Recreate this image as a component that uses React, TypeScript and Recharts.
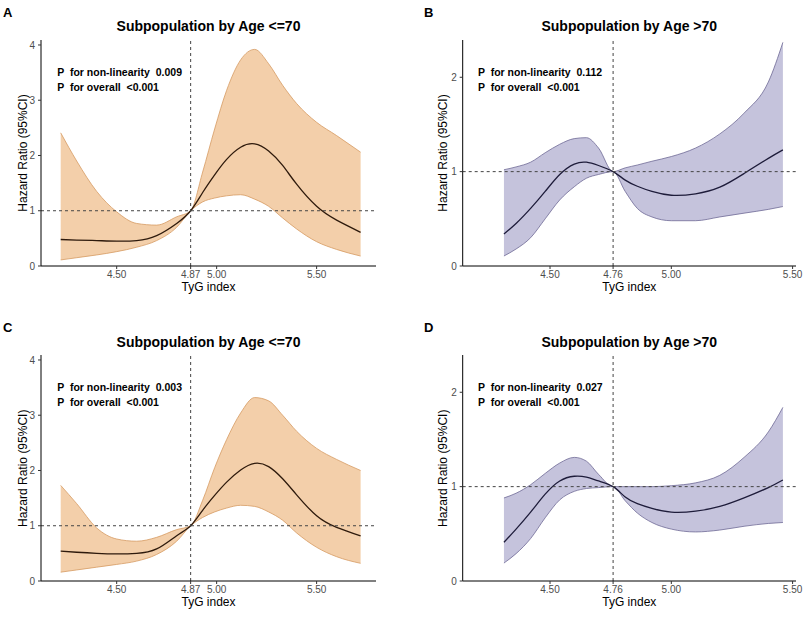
import React from 'react';
import { ComposedChart, Area, Line, XAxis, YAxis, ReferenceLine } from 'recharts';

// ---- Data ----
// Panels A & C (Age <= 70), reference TyG = 4.87
const xAC = [4.22, 4.30, 4.40, 4.50, 4.60, 4.70, 4.80, 4.87, 4.93, 4.99, 5.05, 5.12, 5.19, 5.26, 5.33, 5.40, 5.50, 5.60, 5.72];
const lowA = [0.11, 0.15, 0.20, 0.26, 0.34, 0.46, 0.70, 1.0, 1.16, 1.23, 1.27, 1.29, 1.21, 1.08, 0.87, 0.67, 0.44, 0.30, 0.18];
const hrA = [0.48, 0.47, 0.46, 0.45, 0.46, 0.55, 0.77, 1.0, 1.33, 1.65, 1.93, 2.15, 2.21, 2.08, 1.82, 1.48, 1.08, 0.83, 0.61];
const highA = [2.41, 1.90, 1.35, 0.98, 0.77, 0.74, 0.89, 1.0, 1.70, 2.48, 3.18, 3.73, 3.92, 3.66, 3.27, 2.94, 2.60, 2.36, 2.06];

const lowC = [0.16, 0.20, 0.25, 0.30, 0.36, 0.48, 0.72, 1.0, 1.15, 1.25, 1.32, 1.37, 1.35, 1.25, 1.10, 0.87, 0.61, 0.44, 0.32];
const hrC = [0.54, 0.52, 0.50, 0.49, 0.50, 0.58, 0.82, 1.0, 1.28, 1.55, 1.79, 2.01, 2.13, 2.07, 1.85, 1.56, 1.18, 0.97, 0.815];
const highC = [1.73, 1.40, 0.96, 0.76, 0.72, 0.79, 0.93, 1.0, 1.46, 2.05, 2.56, 3.04, 3.32, 3.26, 3.0, 2.71, 2.40, 2.20, 2.0];

// Panels B & D (Age > 70), reference TyG = 4.76
const xBD = [4.31, 4.36, 4.42, 4.48, 4.54, 4.60, 4.65, 4.70, 4.76, 4.81, 4.86, 4.92, 5.00, 5.10, 5.20, 5.30, 5.40, 5.46];
const lowB = [0.106, 0.18, 0.30, 0.50, 0.70, 0.84, 0.93, 0.97, 1.0, 0.79, 0.61, 0.52, 0.48, 0.48, 0.52, 0.56, 0.60, 0.63];
const hrB = [0.34, 0.45, 0.61, 0.79, 0.97, 1.08, 1.10, 1.065, 1.0, 0.91, 0.845, 0.79, 0.75, 0.765, 0.835, 0.98, 1.14, 1.23];
const highB = [1.02, 1.05, 1.10, 1.20, 1.29, 1.35, 1.36, 1.25, 1.0, 1.04, 1.07, 1.11, 1.16, 1.25, 1.40, 1.62, 1.95, 2.37];

const lowD = [0.19, 0.29, 0.45, 0.67, 0.86, 0.95, 0.98, 0.99, 1.0, 0.85, 0.72, 0.62, 0.55, 0.52, 0.54, 0.58, 0.61, 0.62];
const hrD = [0.41, 0.55, 0.73, 0.92, 1.06, 1.11, 1.10, 1.06, 1.0, 0.89, 0.82, 0.77, 0.73, 0.74, 0.79, 0.88, 0.99, 1.07];
const highD = [0.88, 0.93, 1.02, 1.14, 1.25, 1.31, 1.27, 1.13, 1.0, 1.0, 1.0, 1.0, 1.01, 1.04, 1.12, 1.31, 1.58, 1.84];

const xTicksAC = [4.5, 4.87, 5.0, 5.5];
const xTicksBD = [4.5, 4.76, 5.0, 5.5];
const yTicksAC = [0, 1, 2, 3, 4];
const yTicksBD = [0, 1, 2];

const titlesTop = ['Subpopulation by Age <=70', 'Subpopulation by Age >70'];
const letters = ['A', 'B', 'C', 'D'];
const pNonLin = ['0.009', '0.112', '0.003', '0.027'];
const pOverall = ['<0.001', '<0.001', '<0.001', '<0.001'];

const build = (x: number[], low: number[], hr: number[], high: number[]) =>
  x.map((v, i) => ({ x: v, band: [low[i], high[i]], hr: hr[i] }));

const FONT = '"Liberation Sans", Arial, sans-serif';
const ORANGE_FILL = '#f3cfaa';
const ORANGE_EDGE = '#d69a62';
const PURPLE_FILL = '#c5c3dc';
const PURPLE_EDGE = '#6e6a96';

type PanelProps = {
  left: number; top: number; width: number; height: number;
  mLeft: number; mRight: number;
  data: any[]; xDomain: [number, number]; xTicks: number[];
  yDomain: [number, number]; yTicks: number[]; refX: number;
  fill: string; edge: string; lineColor: string;
};

function Panel(p: PanelProps) {
  return (
    <div style={{ position: 'absolute', left: p.left, top: p.top }}>
      <ComposedChart
        width={p.width}
        height={p.height}
        data={p.data}
        margin={{ top: 40, right: p.mRight, bottom: 10, left: p.mLeft }}
      >
        <XAxis
          dataKey="x"
          type="number"
          domain={p.xDomain}
          ticks={p.xTicks}
          allowDataOverflow
          tickFormatter={(v: number) => v.toFixed(2)}
          height={24}
          tickSize={3}
          tickMargin={2}
          axisLine={{ stroke: '#000', strokeWidth: 1 }}
          tickLine={{ stroke: '#333' }}
          tick={{ fill: '#4d4d4d', fontSize: 10, fontFamily: FONT }}
        />
        <YAxis
          type="number"
          domain={p.yDomain}
          ticks={p.yTicks}
          allowDataOverflow
          width={30}
          tickSize={3}
          tickMargin={3}
          axisLine={{ stroke: '#000', strokeWidth: 1 }}
          tickLine={{ stroke: '#333' }}
          tick={{ fill: '#4d4d4d', fontSize: 10, fontFamily: FONT }}
        />
        <Area
          dataKey="band"
          type="monotone"
          fill={p.fill}
          fillOpacity={1}
          stroke={p.edge}
          strokeWidth={0.8}
          isAnimationActive={false}
          dot={false}
          activeDot={false}
        />
        <Line
          dataKey="hr"
          type="natural"
          stroke={p.lineColor}
          strokeWidth={1.3}
          dot={false}
          activeDot={false}
          isAnimationActive={false}
        />
        <ReferenceLine y={1} stroke="#444" strokeDasharray="3 3" strokeWidth={1} />
        <ReferenceLine x={p.refX} stroke="#444" strokeDasharray="3 3" strokeWidth={1} />
      </ComposedChart>
    </div>
  );
}

type Lab = { letterX: number; baseY: number; cx: number; annX: number; ylabX: number };

function Labels({ l, idx }: { l: Lab; idx: number }) {
  const title = titlesTop[idx % 2];
  return (
    <g fontFamily={FONT}>
      <text x={l.letterX} y={l.baseY + 16.7} fontSize={13} fontWeight="bold" fill="#000">{letters[idx]}</text>
      <text x={l.cx} y={l.baseY + 31.3} fontSize={14} fontWeight="bold" fill="#000" textAnchor="middle">{title}</text>
      <text x={l.annX} y={l.baseY + 76} fontSize={10.5} fontWeight="bold" fill="#000" style={{ whiteSpace: 'pre' }}>
        {`P  for non-linearity  ${pNonLin[idx]}`}
      </text>
      <text x={l.annX} y={l.baseY + 90.7} fontSize={10.5} fontWeight="bold" fill="#000" style={{ whiteSpace: 'pre' }}>
        {`P  for overall  ${pOverall[idx]}`}
      </text>
      <text x={l.cx} y={l.baseY + 291} fontSize={12} fill="#000" textAnchor="middle">TyG index</text>
      <text
        x={0}
        y={0}
        fontSize={12}
        fill="#000"
        textAnchor="middle"
        transform={`translate(${l.ylabX + 4},${l.baseY + 153}) rotate(-90)`}
      >
        Hazard Ratio (95%CI)
      </text>
    </g>
  );
}

export default function App() {
  const dataA = build(xAC, lowA, hrA, highA);
  const dataB = build(xBD, lowB, hrB, highB);
  const dataC = build(xAC, lowC, hrC, highC);
  const dataD = build(xBD, lowD, hrD, highD);
  const rowOff = 315.3;

  const leftCommon = { width: 404, height: 300, mLeft: 11, mRight: 28, xDomain: [4.1215, 5.797] as [number, number], xTicks: xTicksAC, yDomain: [0, 4.09] as [number, number], yTicks: yTicksAC, refX: 4.87, fill: ORANGE_FILL, edge: ORANGE_EDGE, lineColor: '#2e1a0c' };
  const rightCommon = { width: 405, height: 300, mLeft: 28.7, mRight: 13, xDomain: [4.14, 5.514] as [number, number], xTicks: xTicksBD, yDomain: [0, 2.395] as [number, number], yTicks: yTicksBD, refX: 4.76, fill: PURPLE_FILL, edge: PURPLE_EDGE, lineColor: '#1e1c3a' };

  const labs: Lab[] = [
    { letterX: 3, baseY: 0, cx: 208.5, annX: 57.3, ylabX: 22.7 },
    { letterX: 424, baseY: 0, cx: 629.3, annX: 478, ylabX: 443.3 },
    { letterX: 3, baseY: rowOff, cx: 208.5, annX: 57.3, ylabX: 22.7 },
    { letterX: 424, baseY: rowOff, cx: 629.3, annX: 478, ylabX: 443.3 },
  ];

  return (
    <div style={{ position: 'absolute', left: 0, top: 0, width: 809, height: 619, background: '#fff', overflow: 'hidden' }}>
      <Panel left={0} top={0} data={dataA} {...leftCommon} />
      <Panel left={404} top={0} data={dataB} {...rightCommon} />
      <Panel left={0} top={rowOff} data={dataC} {...leftCommon} />
      <Panel left={404} top={rowOff} data={dataD} {...rightCommon} />
      <svg width={809} height={619} style={{ position: 'absolute', left: 0, top: 0, pointerEvents: 'none' }}>
        {labs.map((l, i) => (
          <Labels key={i} l={l} idx={i} />
        ))}
      </svg>
    </div>
  );
}
